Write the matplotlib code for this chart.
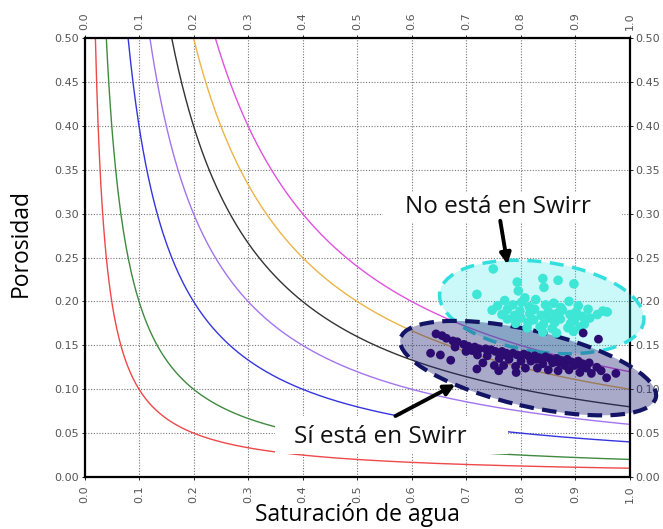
import numpy as np
import matplotlib
matplotlib.use('Agg')
import matplotlib.pyplot as plt
from matplotlib.patches import Ellipse, Rectangle
from matplotlib.transforms import Affine2D

# constant bulk-volume-water lines (phi * Sw = const)
bvw = [0.01, 0.02, 0.04, 0.06, 0.08, 0.10, 0.12]
bvw_colors = ['#ee4848', '#3f8a3f', '#3535e0', '#a274ee', '#333333', '#ebb446', '#e052e0']

sw_ticks = [0.0, 0.1, 0.2, 0.3, 0.4, 0.5, 0.6, 0.7, 0.8, 0.9, 1.0]
phi_ticks = [0.00, 0.05, 0.10, 0.15, 0.20, 0.25, 0.30, 0.35, 0.40, 0.45, 0.50]

# points at irreducible water saturation (dark cluster)
swirr_sw = [0.645, 0.656, 0.664, 0.676, 0.684, 0.696, 0.704, 0.716, 0.724, 0.736,
            0.746, 0.754, 0.766, 0.774, 0.786, 0.794, 0.806, 0.814, 0.826, 0.834,
            0.846, 0.854, 0.866, 0.874, 0.886, 0.894, 0.906, 0.914, 0.926,
            0.700, 0.721, 0.739, 0.761, 0.779, 0.801, 0.819, 0.841, 0.859, 0.881,
            0.899, 0.921, 0.940,
            0.731, 0.752, 0.769, 0.791, 0.809, 0.831, 0.851, 0.869, 0.889, 0.909, 0.930,
            0.720, 0.760, 0.792, 0.958, 0.975, 0.948,
            0.635, 0.653, 0.672,
            0.915, 0.943,
            0.680, 0.711, 0.772, 0.829, 0.871, 0.911]
swirr_phi = [0.163, 0.161, 0.158, 0.155, 0.154, 0.151, 0.149, 0.148, 0.146, 0.146,
             0.145, 0.143, 0.143, 0.141, 0.141, 0.139, 0.140, 0.138, 0.138, 0.136,
             0.137, 0.135, 0.135, 0.133, 0.134, 0.131, 0.132, 0.129, 0.130,
             0.143, 0.139, 0.138, 0.135, 0.134, 0.132, 0.132, 0.129, 0.130, 0.127,
             0.127, 0.124, 0.125,
             0.130, 0.127, 0.127, 0.126, 0.124, 0.124, 0.122, 0.121, 0.122, 0.119, 0.118,
             0.123, 0.121, 0.119, 0.113, 0.118, 0.121,
             0.141, 0.139, 0.133,
             0.164, 0.157,
             0.148, 0.144, 0.139, 0.134, 0.130, 0.127]

# points not at irreducible water saturation (cyan cluster)
no_swirr_sw = [0.750, 0.720, 0.794, 0.796, 0.841, 0.869, 0.898, 0.843, 0.959, 0.808,
               0.771, 0.802, 0.828, 0.861, 0.889,
               0.758, 0.786, 0.816, 0.846, 0.874, 0.906,
               0.748, 0.776, 0.799, 0.826, 0.851, 0.877, 0.902, 0.924, 0.951,
               0.766, 0.789, 0.817, 0.838, 0.866, 0.891, 0.913, 0.941,
               0.776, 0.801, 0.824, 0.852, 0.873, 0.899, 0.927,
               0.791, 0.814, 0.842, 0.863, 0.892, 0.917,
               0.812, 0.836, 0.858, 0.887, 0.909,
               0.841, 0.866, 0.897]
no_swirr_phi = [0.237, 0.208, 0.222, 0.212, 0.226, 0.224, 0.220, 0.216, 0.188, 0.204,
                0.201, 0.199, 0.202, 0.198, 0.200,
                0.195, 0.196, 0.194, 0.196, 0.193, 0.195,
                0.190, 0.191, 0.189, 0.191, 0.189, 0.190, 0.188, 0.191, 0.189,
                0.185, 0.184, 0.186, 0.184, 0.186, 0.185, 0.183, 0.185,
                0.180, 0.181, 0.179, 0.181, 0.180, 0.179, 0.181,
                0.175, 0.176, 0.174, 0.176, 0.175, 0.174,
                0.170, 0.171, 0.169, 0.170, 0.171,
                0.165, 0.164, 0.166]

plt.rcParams['font.family'] = ['Open Sans', 'DejaVu Sans']

fig = plt.figure(figsize=(6.63, 5.29), dpi=100)
ax = fig.add_axes([84.5 / 663, 52 / 529, 545 / 663, 439 / 529])
ax.set_xlim(0, 1)
ax.set_ylim(0, 0.5)
ax.set_axisbelow(True)
ax.grid(True, color='#777777', linestyle=(0, (1, 1.5)), linewidth=0.8)

for c, col in zip(bvw, bvw_colors):
    sw = np.linspace(c / 0.5, 1.0, 400)
    ax.plot(sw, c / sw, color=col, lw=1.0, zorder=2)

# y scale factor so the ellipses can be rotated in screen space
k = (439 / 0.5) / (545 / 1.0)
etr = Affine2D().scale(1, 1 / k) + ax.transData
cyan_ell = Ellipse((0.839, 0.1936 * k), 0.378, 0.165, angle=-8,
                   facecolor=(0.2, 0.9, 0.9, 0.25), edgecolor='#33dede',
                   lw=2.5, linestyle=(0, (4, 2.5)), transform=etr, clip_on=False, zorder=3)
dark_ell = Ellipse((0.814, 0.124 * k), 0.481, 0.139, angle=-13,
                   facecolor=(0.12, 0.12, 0.45, 0.38), edgecolor='#141466',
                   lw=3, linestyle=(0, (3.5, 2)), transform=etr, clip_on=False, zorder=3)
ax.add_patch(cyan_ell)
ax.add_patch(dark_ell)

ax.scatter(no_swirr_sw, no_swirr_phi, s=48, color='#3ee6d6', edgecolors='none', zorder=4, clip_on=False)
ax.scatter(swirr_sw, swirr_phi, s=40, color='#2c0c70', edgecolors='none', zorder=5, clip_on=False)

# white label boxes
ax.add_patch(Rectangle((0.548, 0.290), 0.438, 0.035, facecolor='white', edgecolor='none', zorder=6))
ax.add_patch(Rectangle((0.350, 0.0265), 0.427, 0.043, facecolor='white', edgecolor='none', zorder=6))
ax.text(0.759, 0.3075, 'No está en Swirr', fontsize=17.5, ha='center', va='center', color='#111111', zorder=7)
ax.text(0.542, 0.0456, 'Sí está en Swirr', fontsize=17.5, ha='center', va='center', color='#111111', zorder=7)

ax.annotate('', xy=(0.777, 0.239), xytext=(0.762, 0.295),
            arrowprops=dict(arrowstyle='-|>', color='black', lw=2.8, mutation_scale=16), zorder=8)
ax.annotate('', xy=(0.685, 0.107), xytext=(0.566, 0.068),
            arrowprops=dict(arrowstyle='-|>', color='black', lw=2.8, mutation_scale=16), zorder=8)

ax.set_xticks(sw_ticks)
ax.set_xticklabels(['%.1f' % v for v in sw_ticks], rotation=90, family='DejaVu Sans')
ax.set_yticks(phi_ticks)
ax.set_yticklabels(['%.2f' % v for v in phi_ticks], family='DejaVu Sans')
ax.tick_params(axis='both', labelsize=8, labelcolor='#555555', length=2, width=0.6,
               top=True, labeltop=True, right=True, labelright=True, pad=2)
ax.tick_params(axis='x', which='both', pad=4)
for s in ax.spines.values():
    s.set_linewidth(1.6)
    s.set_color('black')

fig.text(357 / 663, 1 - 515 / 529, 'Saturación de agua', fontsize=16.5, ha='center', va='center')
fig.text(21 / 663, 1 - 243 / 529, 'Porosidad', fontsize=16.5, ha='center', va='center', rotation=90)

fig.savefig('out.png', dpi=100)
